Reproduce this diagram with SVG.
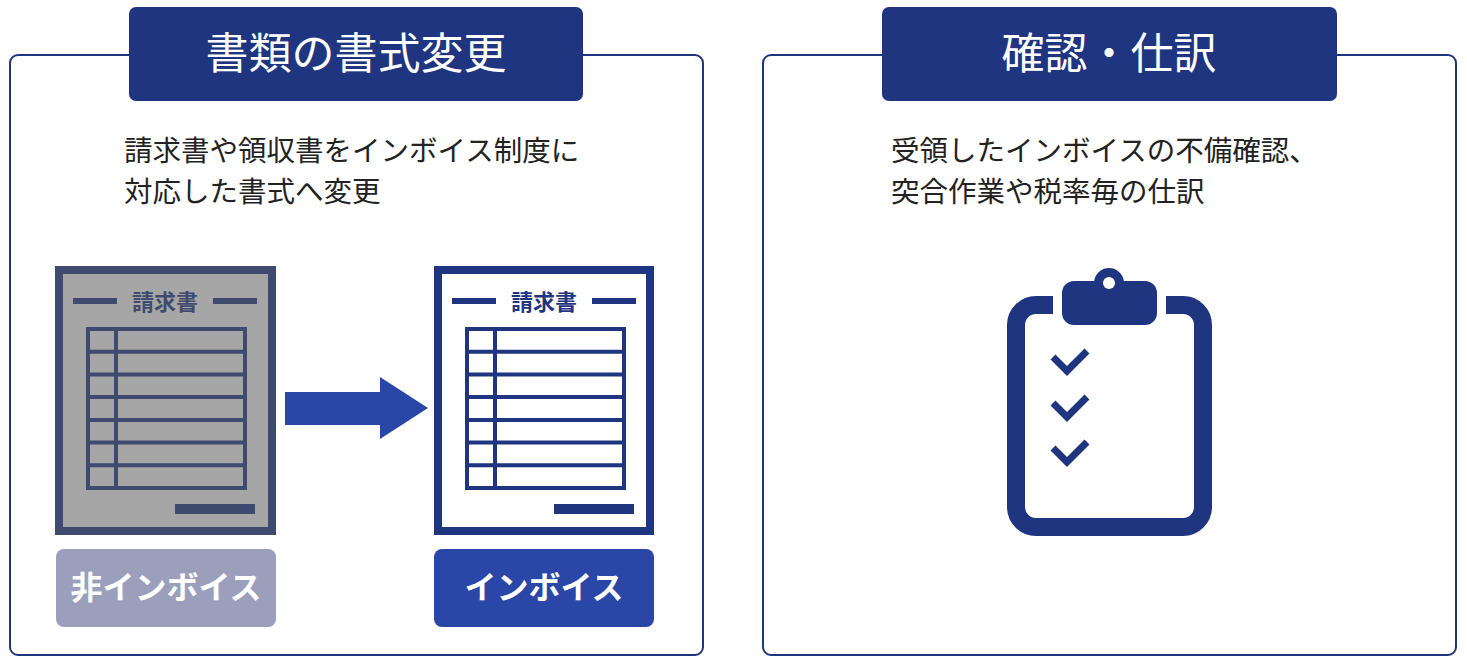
<svg xmlns="http://www.w3.org/2000/svg" width="1467" height="667" viewBox="0 0 1467 667">
<style>
.jp{font-family:"Noto Sans CJK JP","Noto Sans",sans-serif}
.panel{fill:#fff;stroke:#1f3580;stroke-width:2}
.tab{fill:#1f3580}
.ttl{fill:#fff;font-size:43px;text-anchor:middle}
.body{fill:#222;font-size:28.5px}
.lbl{fill:#fff;font-size:32px;font-weight:bold;text-anchor:middle}
</style>
<rect width="1467" height="667" fill="#fff"/>
<g id="panel-left">
<rect class="panel" x="10" y="55" width="693" height="600" rx="8"/>
<rect class="tab" x="129" y="7" width="454" height="94" rx="7"/>
<text class="jp ttl" x="356" y="69">書類の書式変更</text>
<text class="jp body" x="124" y="161">請求書や領収書をインボイス制度に</text>
<text class="jp body" x="124" y="202">対応した書式へ変更</text>
</g>
<g id="doc-old">
<rect x="59" y="270" width="213" height="261" fill="#a6a6a6" stroke="#3f4a6e" stroke-width="8"/>
<rect x="73" y="298" width="44" height="6" fill="#3f4a6e"/>
<rect x="213" y="298" width="44" height="6" fill="#3f4a6e"/>
<text class="jp" x="165" y="310" font-size="22" font-weight="bold" fill="#3f4a6e" text-anchor="middle">請求書</text>
<g fill="none" stroke="#3f4a6e" stroke-width="4">
<rect x="88" y="329" width="157" height="159"/>
<path d="M116 329V488M88 351.7H245M88 374.4H245M88 397.1H245M88 419.9H245M88 442.6H245M88 465.3H245"/>
</g>
<rect x="175" y="504" width="80" height="10" fill="#3f4a6e"/>
</g>
<g id="doc-new">
<rect x="438" y="270" width="212" height="261" fill="#fff" stroke="#1f3580" stroke-width="8"/>
<rect x="452" y="298" width="44" height="6" fill="#1f3580"/>
<rect x="592" y="298" width="44" height="6" fill="#1f3580"/>
<text class="jp" x="544" y="310" font-size="22" font-weight="bold" fill="#1f3580" text-anchor="middle">請求書</text>
<g fill="none" stroke="#1f3580" stroke-width="4">
<rect x="467" y="329" width="157" height="159"/>
<path d="M495 329V488M467 351.7H624M467 374.4H624M467 397.1H624M467 419.9H624M467 442.6H624M467 465.3H624"/>
</g>
<rect x="554" y="504" width="80" height="10" fill="#1f3580"/>
</g>
<g id="connectors">
<path d="M285 392H380V377L428 408L380 439V425H285Z" fill="#2a47a8"/>
</g>
<g id="label-old">
<rect x="56" y="549" width="220" height="78" rx="8" fill="#9b9fbb"/>
<text class="jp lbl" x="166" y="599">非インボイス</text>
</g>
<g id="label-new">
<rect x="434" y="549" width="220" height="78" rx="8" fill="#2a47a8"/>
<text class="jp lbl" x="544" y="599">インボイス</text>
</g>
<g id="panel-right">
<rect class="panel" x="763" y="55" width="693" height="600" rx="8"/>
<rect class="tab" x="882" y="7" width="455" height="94" rx="7"/>
<text class="jp ttl" x="1109" y="69">確認・仕訳</text>
<text class="jp body" x="891" y="161">受領したインボイスの不備確認、</text>
<text class="jp body" x="891" y="202">突合作業や税率毎の仕訳</text>
</g>
<g id="clipboard" fill="#1f3580">
<path d="M1053 305H1036A20 20 0 0 0 1016 325V507A20 20 0 0 0 1036 527H1183A20 20 0 0 0 1203 507V325A20 20 0 0 0 1183 305H1166" fill="none" stroke="#1f3580" stroke-width="18"/>
<circle cx="1109" cy="283" r="15"/>
<rect x="1062" y="281" width="95" height="44" rx="12"/>
<circle cx="1109" cy="283" r="6" fill="#fff"/>
<g fill="none" stroke="#1f3580" stroke-width="7">
<path d="M1053 357L1067 371L1087 351M1053 403L1067 417L1087 397M1053 448L1067 462L1087 442"/>
</g>
</g>
</svg>
